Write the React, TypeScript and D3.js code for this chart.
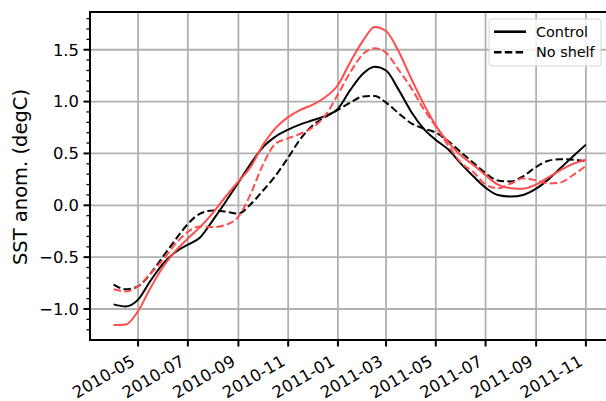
// SST anomaly time series — Control vs No shelf (black) plus the red pair.
// d3 scales + line generators, rendered as plain JSX into one svg.
import * as d3 from "d3";

const DATES = [
  "2010-04-01", "2010-04-16", "2010-05-01", "2010-05-16", "2010-06-01", "2010-06-16",
  "2010-07-01", "2010-07-16", "2010-08-01", "2010-08-16", "2010-09-01", "2010-09-16",
  "2010-10-01", "2010-10-16", "2010-11-01", "2010-11-16", "2010-12-01", "2010-12-16",
  "2011-01-01", "2011-01-16", "2011-02-01", "2011-02-15", "2011-03-01", "2011-03-16",
  "2011-04-01", "2011-04-16", "2011-05-01", "2011-05-16", "2011-06-01", "2011-06-16",
  "2011-07-01", "2011-07-16", "2011-08-01", "2011-08-16", "2011-09-01", "2011-09-16",
  "2011-10-01", "2011-10-16", "2011-11-01",
];

const CONTROL = [
  -0.955, -0.975, -0.91, -0.73, -0.56, -0.45, -0.38, -0.31, -0.14, 0.03, 0.22, 0.4,
  0.56, 0.66, 0.73, 0.78, 0.82, 0.86, 0.93, 1.11, 1.27, 1.335, 1.3, 1.12, 0.9, 0.74,
  0.63, 0.54, 0.4, 0.28, 0.17, 0.1, 0.085, 0.1, 0.16, 0.25, 0.36, 0.47, 0.585,
];
const NO_SHELF = [
  -0.765, -0.81, -0.78, -0.66, -0.49, -0.33, -0.18, -0.08, -0.05, -0.06, -0.08, 0.01,
  0.14, 0.28, 0.46, 0.64, 0.77, 0.85, 0.92, 0.99, 1.05, 1.055, 0.99, 0.89, 0.79, 0.74,
  0.7, 0.62, 0.51, 0.41, 0.31, 0.24, 0.23, 0.28, 0.37, 0.43, 0.445, 0.44, 0.425,
];
const RED_CONTROL = [
  -1.155, -1.15, -1.02, -0.8, -0.59, -0.44, -0.32, -0.21, -0.07, 0.08, 0.23, 0.37,
  0.58, 0.74, 0.85, 0.92, 0.97, 1.04, 1.16, 1.38, 1.59, 1.72, 1.68, 1.49, 1.22, 0.98,
  0.77, 0.61, 0.48, 0.39, 0.29, 0.2, 0.165, 0.16, 0.2, 0.27, 0.34, 0.4, 0.44,
];
const RED_NO_SHELF = [
  -0.81, -0.83, -0.78, -0.66, -0.52, -0.37, -0.255, -0.205, -0.21, -0.19, -0.11, 0.11,
  0.39, 0.59, 0.645, 0.69, 0.75, 0.86, 1.07, 1.28, 1.46, 1.515, 1.47, 1.31, 1.13, 0.93,
  0.76, 0.58, 0.41, 0.32, 0.2, 0.165, 0.21, 0.26, 0.24, 0.21, 0.22, 0.29, 0.38,
];

const X_TICKS = [
  "2010-05", "2010-07", "2010-09", "2010-11", "2011-01", "2011-03",
  "2011-05", "2011-07", "2011-09", "2011-11",
];
const Y_TICKS = [-1.0, -0.5, 0.0, 0.5, 1.0, 1.5];
const Y_MINOR = [-1.2, -1.1, -0.9, -0.8, -0.7, -0.6, -0.4, -0.3, -0.2, -0.1, 0.1, 0.2, 0.3, 0.4,
  0.6, 0.7, 0.8, 0.9, 1.1, 1.2, 1.3, 1.4, 1.6, 1.7, 1.8];

const LEGEND = [
  { label: "Control", dash: null },
  { label: "No shelf", dash: "7.5 3.3" },
];

const RED = "#ff4d4d";
const FONT = "DejaVu Sans, sans-serif";

const W = 606;
const H = 401;
const box = { left: 90, right: 609.5, top: 12, bottom: 340 };

const parse = d3.utcParse("%Y-%m-%d");
const parseMonth = d3.utcParse("%Y-%m");

export default function App() {
  const dates = DATES.map((d) => parse(d)!);

  // matplotlib-style 5% margins around the data extent
  const [d0, d1] = d3.extent(dates) as [Date, Date];
  const span = +d1 - +d0;
  const x = d3
    .scaleUtc()
    .domain([new Date(+d0 - span * 0.05), new Date(+d1 + span * 0.05)])
    .range([box.left, box.right]);

  const all = [...CONTROL, ...NO_SHELF, ...RED_CONTROL, ...RED_NO_SHELF];
  const lo = d3.min(all)!;
  const hi = d3.max(all)!;
  const pad = (hi - lo) * 0.05;
  const y = d3.scaleLinear().domain([lo - pad, hi + pad]).range([box.bottom, box.top]);

  const line = d3
    .line<number>()
    .x((_, i) => x(dates[i]))
    .y((v) => y(v))
    .curve(d3.curveMonotoneX);

  const series = [
    { vals: CONTROL, color: "#000", dash: null },
    { vals: NO_SHELF, color: "#000", dash: "7.5 3.3" },
    { vals: RED_CONTROL, color: RED, dash: null },
    { vals: RED_NO_SHELF, color: RED, dash: "7.5 3.3" },
  ];

  const fmtY = (v: number) => (v < 0 ? "\u2212" : "") + Math.abs(v).toFixed(1);

  const lg = { x: 489, y: 19, w: 112, h: 47 };

  return (
    <div style={{ position: "absolute", left: 0, top: 0 }}>
      <svg width={W} height={H} style={{ display: "block", background: "#fff" }}>
        {/* grid */}
        <g stroke="#b0b0b0" strokeWidth={1.8}>
          {X_TICKS.map((t) => {
            const px = x(parseMonth(t)!);
            return <line key={t} x1={px} x2={px} y1={box.top} y2={box.bottom} />;
          })}
          {Y_TICKS.map((t) => (
            <line key={t} x1={box.left} x2={box.right} y1={y(t)} y2={y(t)} />
          ))}
        </g>

        {/* data */}
        <g fill="none" strokeWidth={2}>
          {series.map((s, i) => (
            <path
              key={i}
              d={line(s.vals) ?? ""}
              stroke={s.color}
              strokeDasharray={s.dash ?? undefined}
            />
          ))}
        </g>

        {/* spines */}
        <g stroke="#000" strokeWidth={2} fill="none">
          <line x1={box.left} x2={box.right + 1} y1={box.top} y2={box.top} />
          <line x1={box.left} x2={box.right + 1} y1={box.bottom} y2={box.bottom} />
          <line x1={box.left} x2={box.left} y1={box.top - 1} y2={box.bottom + 1} />
          <line x1={box.right} x2={box.right} y1={box.top - 1} y2={box.bottom + 1} />
        </g>

        {/* y ticks */}
        <g stroke="#000">
          {Y_TICKS.map((t) => (
            <line key={t} x1={box.left - 6.5} x2={box.left} y1={y(t)} y2={y(t)} strokeWidth={2} />
          ))}
          {Y_MINOR.filter((t) => y(t) > box.top && y(t) < box.bottom).map((t) => (
            <line key={t} x1={box.left - 3.5} x2={box.left} y1={y(t)} y2={y(t)} strokeWidth={1.3} />
          ))}
        </g>
        <g fontFamily={FONT} fontSize={16.4} fill="#000" textAnchor="end">
          {Y_TICKS.map((t) => (
            <text key={t} x={box.left - 11} y={y(t)} dy="0.36em">
              {fmtY(t)}
            </text>
          ))}
        </g>

        {/* x ticks */}
        <g stroke="#000" strokeWidth={2}>
          {X_TICKS.map((t) => {
            const px = x(parseMonth(t)!);
            return <line key={t} x1={px} x2={px} y1={box.bottom} y2={box.bottom + 6.5} />;
          })}
        </g>
        <g fontFamily={FONT} fontSize={16.4} fill="#000" textAnchor="end">
          {X_TICKS.map((t) => {
            const px = x(parseMonth(t)!) - 2;
            const py = box.bottom + 24.5;
            return (
              <text key={t} x={px} y={py} transform={`rotate(-30,${px},${py})`}>
                {t}
              </text>
            );
          })}
        </g>

        {/* y label */}
        <text
          transform={`translate(27,${(box.top + box.bottom) / 2 + 1}) rotate(-90)`}
          textAnchor="middle"
          fontFamily={FONT}
          fontSize={19.5}
          fill="#000"
        >
          SST anom. (degC)
        </text>

        {/* legend */}
        <g>
          <rect
            x={lg.x}
            y={lg.y}
            width={lg.w}
            height={lg.h}
            rx={3}
            fill="#fff"
            fillOpacity={0.8}
            stroke="#d6d6d6"
            strokeWidth={1}
          />
          {LEGEND.map((l, i) => {
            const ly = lg.y + 12.7 + i * 20.6;
            return (
              <g key={l.label}>
                <line
                  x1={lg.x + 5}
                  x2={lg.x + 37}
                  y1={ly}
                  y2={ly}
                  stroke="#000"
                  strokeWidth={2.6}
                  strokeDasharray={l.dash ?? undefined}
                />
                <text
                  x={lg.x + 47}
                  y={ly}
                  dy="0.36em"
                  fontFamily={FONT}
                  fontSize={14.4}
                  fill="#000"
                >
                  {l.label}
                </text>
              </g>
            );
          })}
        </g>
      </svg>
    </div>
  );
}
